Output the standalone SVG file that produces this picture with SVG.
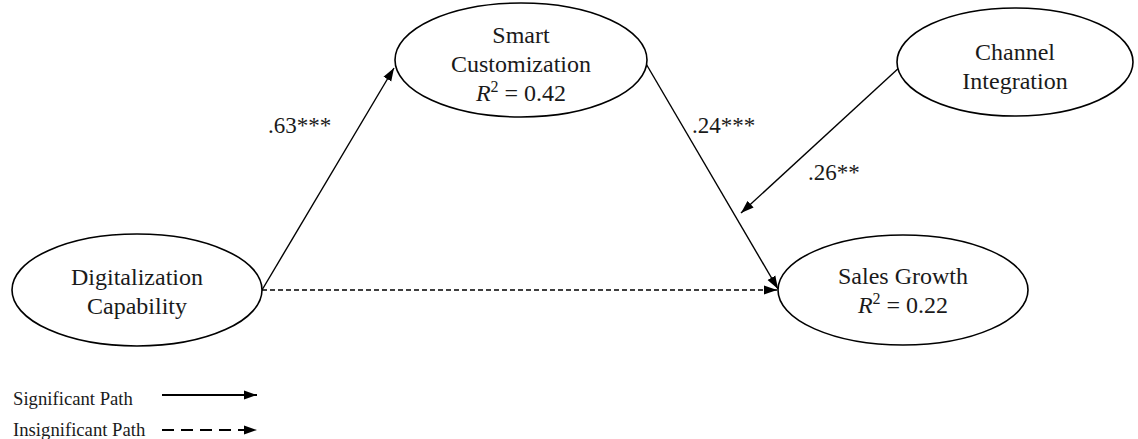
<svg xmlns="http://www.w3.org/2000/svg" width="1138" height="439" viewBox="0 0 1138 439">
<style>
.node ellipse{fill:#fff;stroke:#000;stroke-width:1.6}
text{font-family:"Liberation Serif","Times New Roman",serif;fill:#1a1a1a}
.nt{font-size:24px;text-anchor:middle}
.lbl{font-size:23px}
.leg{font-size:18.7px}
.edge{stroke:#000;stroke-width:1.4;fill:none}
.dash{stroke-dasharray:5,3}
.legdash{stroke-dasharray:12,7;stroke-width:2.2}
.legsolid{stroke-width:2.2}
</style>
<defs>
<marker id="ah" markerUnits="userSpaceOnUse" markerWidth="14" markerHeight="10" refX="13" refY="5" orient="auto">
<path d="M0,0.5 L13,5 L0,9.5 Z" fill="#000"/>
</marker>
</defs>
<g id="connectors">
<line class="edge" x1="262" y1="290" x2="394" y2="68" marker-end="url(#ah)"/>
<line class="edge" x1="645" y1="62" x2="778" y2="289" marker-end="url(#ah)"/>
<line class="edge" x1="901" y1="66" x2="741" y2="213" marker-end="url(#ah)"/>
<line class="edge dash" x1="262" y1="290" x2="777" y2="290" marker-end="url(#ah)"/>
</g>
<g id="smart" class="node">
<ellipse cx="521" cy="60" rx="126" ry="57"/>
<text class="nt" x="521" y="43">Smart</text>
<text class="nt" x="521" y="72">Customization</text>
<text class="nt" x="521" y="101"><tspan font-style="italic">R</tspan><tspan font-size="16" dy="-9">2</tspan><tspan dy="9"> = 0.42</tspan></text>
</g>
<g id="channel" class="node">
<ellipse cx="1015" cy="62" rx="118" ry="54"/>
<text class="nt" x="1015" y="60">Channel</text>
<text class="nt" x="1015" y="89">Integration</text>
</g>
<g id="digital" class="node">
<ellipse cx="137" cy="290" rx="125" ry="56"/>
<text class="nt" x="137" y="285">Digitalization</text>
<text class="nt" x="137" y="314">Capability</text>
</g>
<g id="sales" class="node">
<ellipse cx="903" cy="290" rx="125" ry="55"/>
<text class="nt" x="903" y="284">Sales Growth</text>
<text class="nt" x="903" y="313"><tspan font-style="italic">R</tspan><tspan font-size="16" dy="-9">2</tspan><tspan dy="9"> = 0.22</tspan></text>
</g>
<g id="labels">
<text class="lbl" x="268" y="133">.63***</text>
<text class="lbl" x="692" y="133">.24***</text>
<text class="lbl" x="808" y="180">.26**</text>
</g>
<g id="legend">
<text class="leg" x="13" y="405">Significant Path</text>
<text class="leg" x="13" y="436">Insignificant Path</text>
<line class="edge legsolid" x1="162" y1="395" x2="257" y2="395" marker-end="url(#ah)"/>
<line class="edge legdash" x1="162" y1="430" x2="257" y2="430" marker-end="url(#ah)"/>
</g>
</svg>
